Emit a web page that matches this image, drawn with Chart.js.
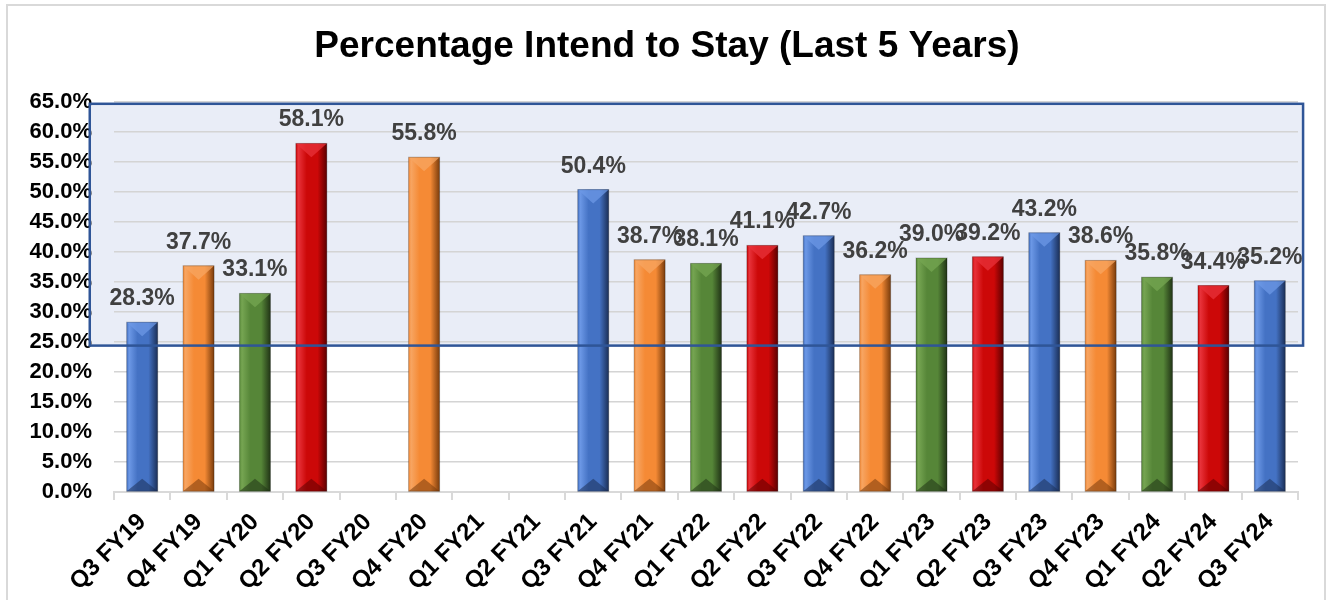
<!DOCTYPE html>
<html>
<head>
<meta charset="utf-8">
<script src="https://cdn.jsdelivr.net/npm/chart.js@4/dist/chart.umd.min.js"></script>
<style>
  html, body { margin: 0; padding: 0; background: #fff; }
  #wrap { width: 1326px; height: 600px; position: relative; }
</style>
</head>
<body>
<div id="wrap"><canvas id="c" width="1326" height="600"></canvas></div>
<script>
const chartTitle = 'Percentage Intend to Stay (Last 5 Years)';
const categories = ['Q3 FY19','Q4 FY19','Q1 FY20','Q2 FY20','Q3 FY20','Q4 FY20','Q1 FY21','Q2 FY21','Q3 FY21','Q4 FY21','Q1 FY22','Q2 FY22','Q3 FY22','Q4 FY22','Q1 FY23','Q2 FY23','Q3 FY23','Q4 FY23','Q1 FY24','Q2 FY24','Q3 FY24'];
const intendToStay = [28.3, 37.7, 33.1, 58.1, null, 55.8, null, null, 50.4, 38.7, 38.1, 41.1, 42.7, 36.2, 39.0, 39.2, 43.2, 38.6, 35.8, 34.4, 35.2];
const yTicks = [0,5,10,15,20,25,30,35,40,45,50,55,60,65];
const quarterColors = {
  Q3: { light: '#6C98E6', main: '#4472C4', dark: '#1B2F57' },
  Q4: { light: '#F7A562', main: '#F58A35', dark: '#7A3C0C' },
  Q1: { light: '#76A552', main: '#568638', dark: '#213416' },
  Q2: { light: '#E8323A', main: '#CC0808', dark: '#5C0000' }
};
const highlightBox = { xMin: -0.93, xMax: 20.59, yMin: 24.4, yMax: 64.7 };

const FONT = '"Liberation Sans", Arial, sans-serif';
function colorsFor(i) { return quarterColors[categories[i].slice(0, 2)]; }

function barGradient(ctx) {
  const chart = ctx.chart;
  const c = colorsFor(ctx.dataIndex);
  const xs = chart.scales.x;
  if (!chart.chartArea || !xs || xs.width === undefined) return c.main;
  const cx = xs.getPixelForValue(ctx.dataIndex);
  const w = (xs.width / categories.length) * 0.55;
  const g = chart.ctx.createLinearGradient(cx - w / 2, 0, cx + w / 2, 0);
  g.addColorStop(0, c.main);
  g.addColorStop(0.08, c.light);
  g.addColorStop(0.35, c.main);
  g.addColorStop(0.7, c.main);
  g.addColorStop(1, c.dark);
  return g;
}

const decorPlugin = {
  id: 'decor',
  beforeDraw(chart) {
    const { ctx } = chart;
    const xs = chart.scales.x, ys = chart.scales.y;
    ctx.save();
    ctx.strokeStyle = '#d9d9d9';
    ctx.lineWidth = 2;
    ctx.strokeRect(7, 5, 1318, 620);
    ctx.fillStyle = '#000';
    ctx.font = 'bold 37px ' + FONT;
    ctx.textAlign = 'center';
    ctx.textBaseline = 'middle';
    ctx.fillText(chartTitle, 667, 47);
    const x1 = xs.getPixelForValue(highlightBox.xMin), x2 = xs.getPixelForValue(highlightBox.xMax);
    const y1 = ys.getPixelForValue(highlightBox.yMax), y2 = ys.getPixelForValue(highlightBox.yMin);
    ctx.fillStyle = '#E9EDF7';
    ctx.fillRect(x1, y1, x2 - x1, y2 - y1);
    ctx.restore();
  },
  afterDatasetsDraw(chart) {
    const { ctx } = chart;
    const xs = chart.scales.x, ys = chart.scales.y;
    const meta = chart.getDatasetMeta(0);
    ctx.save();
    meta.data.forEach((el, i) => {
      if (intendToStay[i] === null) return;
      const c = colorsFor(i);
      const { x, y, width, base } = el.getProps(['x', 'y', 'width', 'base'], true);
      const l = x - width / 2, r = x + width / 2;
      ctx.fillStyle = c.light;
      ctx.globalAlpha = 0.75;
      ctx.beginPath();
      ctx.moveTo(l, y); ctx.lineTo(r, y); ctx.lineTo(x, y + width * 0.45); ctx.closePath();
      ctx.fill();
      ctx.globalAlpha = 0.55;
      ctx.fillStyle = c.dark;
      ctx.beginPath();
      ctx.moveTo(l, base); ctx.lineTo(r, base); ctx.lineTo(x, base - width * 0.4); ctx.closePath();
      ctx.fill();
      ctx.globalAlpha = 1;
      ctx.strokeStyle = 'rgba(0,0,0,0.25)';
      ctx.lineWidth = 1;
      ctx.strokeRect(l, y, width, base - y);
    });
    const x1 = xs.getPixelForValue(highlightBox.xMin), x2 = xs.getPixelForValue(highlightBox.xMax);
    const y1 = ys.getPixelForValue(highlightBox.yMax), y2 = ys.getPixelForValue(highlightBox.yMin);
    ctx.strokeStyle = '#2F5597';
    ctx.lineWidth = 2.5;
    ctx.strokeRect(x1, y1, x2 - x1, y2 - y1);
    ctx.fillStyle = '#404040';
    ctx.font = 'bold 23px ' + FONT;
    ctx.textAlign = 'center';
    ctx.textBaseline = 'alphabetic';
    meta.data.forEach((el, i) => {
      const v = intendToStay[i];
      if (v === null) return;
      ctx.fillText(v.toFixed(1) + '%', el.x, el.y - 17);
    });
    ctx.restore();
  }
};

new Chart(document.getElementById('c'), {
  type: 'bar',
  data: {
    labels: categories,
    datasets: [{
      data: intendToStay,
      backgroundColor: barGradient,
      borderWidth: 0,
      categoryPercentage: 1,
      barPercentage: 0.55
    }]
  },
  options: {
    responsive: false,
    animation: false,
    devicePixelRatio: 1,
    layout: { padding: { left: 0, right: 28, top: 102, bottom: 0 } },
    plugins: {
      legend: { display: false },
      tooltip: { enabled: false },
      title: { display: false }
    },
    scales: {
      x: {
        grid: { display: true, drawOnChartArea: false, offset: true, tickLength: 8, color: '#d9d9d9', lineWidth: 2 },
        border: { display: true, color: '#d9d9d9', width: 2 },
        ticks: {
          color: '#000',
          font: { family: FONT, size: 24, weight: 'bold' },
          maxRotation: 45, minRotation: 45, autoSkip: false, padding: 8
        },
        afterFit(s) { s.height = 108; }
      },
      y: {
        min: 0, max: 65,
        afterBuildTicks(s) { s.ticks = yTicks.map(v => ({ value: v })); },
        grid: { color: '#d4d4d4', lineWidth: 1.5, drawTicks: false },
        border: { display: false },
        ticks: {
          color: '#000',
          autoSkip: false,
          font: { family: FONT, size: 22, weight: 'bold' },
          padding: 22,
          callback: v => v.toFixed(1) + '%'
        },
        afterFit(s) { s.width = 114; }
      }
    }
  },
  plugins: [decorPlugin]
});
</script>
</body>
</html>
